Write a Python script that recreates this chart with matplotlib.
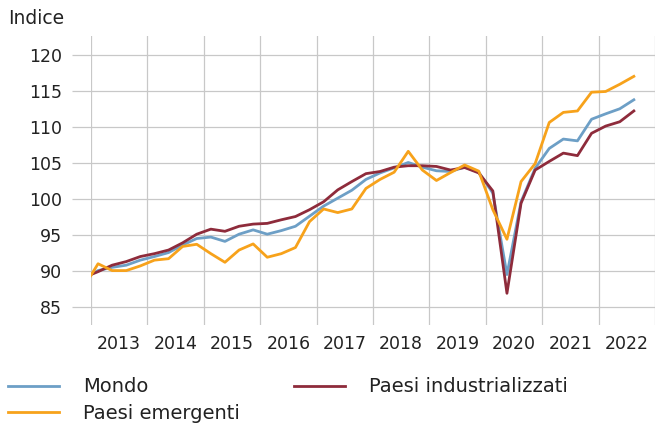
import numpy as np
import matplotlib
matplotlib.use("Agg")
import matplotlib.pyplot as plt

# quarterly index, 2012 Q4 .. 2022 Q3 (first point falls just left of the visible range)
years = np.arange(2013, 2023)
quarters = 2012.875 + 0.25 * np.arange(40)

mondo = [89.0, 90.05, 90.5, 90.8, 91.5, 92.0, 92.55, 93.6, 94.5, 94.7,
         94.1, 95.1, 95.7, 95.1, 95.6, 96.2, 97.6, 99.0, 100.1, 101.2,
         102.7, 103.6, 104.3, 105.05, 104.4, 103.9, 103.8, 104.4, 103.7, 100.8,
         89.5, 99.6, 104.25, 107.0, 108.3, 108.05, 111.05, 111.8, 112.5, 113.75]
industrializzati = [89.1, 89.9, 90.8, 91.3, 92.0, 92.4, 92.9, 93.9, 95.1, 95.8,
                    95.5, 96.2, 96.5, 96.6, 97.1, 97.55, 98.5, 99.6, 101.25, 102.4,
                    103.5, 103.8, 104.4, 104.6, 104.6, 104.5, 104.0, 104.35, 103.6, 101.1,
                    86.9, 99.4, 104.0, 105.2, 106.35, 106.0, 109.1, 110.1, 110.7, 112.2]
emergenti = [87.8, 91.0, 90.05, 90.05, 90.7, 91.5, 91.7, 93.4, 93.7, 92.4,
             91.2, 92.9, 93.75, 91.9, 92.4, 93.25, 96.85, 98.6, 98.1, 98.6,
             101.45, 102.7, 103.7, 106.6, 104.0, 102.55, 103.65, 104.7, 103.85, 98.5,
             94.4, 102.4, 104.9, 110.6, 112.0, 112.2, 114.8, 114.9, 115.9, 117.0]

yticks = [85, 90, 95, 100, 105, 110, 115, 120]

plt.rcParams['font.family'] = ['DejaVu Sans']
text_col = '#222222'
grid_col = '#c8c8c8'

fig = plt.figure(figsize=(6.7, 4.26), dpi=100)
ax = fig.add_axes([91 / 670, 1 - 325 / 426, (655 - 91) / 670, (325 - 36) / 426])

ax.plot(quarters, mondo, color='#6d9fc6', lw=2.0, label='Mondo', zorder=3)
ax.plot(quarters, emergenti, color='#f7a21b', lw=2.0, label='Paesi emergenti', zorder=4)
ax.plot(quarters, industrializzati, color='#8e2b3b', lw=2.0,
        label='Paesi industrializzati', zorder=3)

ax.set_xlim(2013, 2023)
ax.set_ylim(82.5, 122.6)

ax.set_xticks(list(years) + [2023])
ax.set_xticklabels([])
ax.set_xticks(years + 0.5, minor=True)
ax.set_xticklabels([str(y) for y in years], minor=True)
ax.tick_params(axis='x', which='major', length=0)
ax.tick_params(axis='x', which='minor', length=0, pad=7, labelsize=12.5, labelcolor=text_col)

ax.set_yticks(yticks)
ax.tick_params(axis='y', length=14, width=0.9, color=grid_col, pad=7,
               labelsize=12.5, labelcolor=text_col)

ax.grid(True, which='major', color=grid_col, lw=0.9)
ax.set_axisbelow(True)
for s in ax.spines.values():
    s.set_visible(False)

fig.text(8 / 670, 1 - 18 / 426, 'Indice', fontsize=13.5, color=text_col, va='center')

ax.legend(loc='upper left', bbox_to_anchor=(-83 / 564, -0.181), ncol=2,
          frameon=False, fontsize=14, handlelength=2.6, handletextpad=1.25,
          columnspacing=2.8, labelspacing=0.4, labelcolor=text_col, borderaxespad=0,
          borderpad=0)

fig.savefig('out.png', dpi=100)
